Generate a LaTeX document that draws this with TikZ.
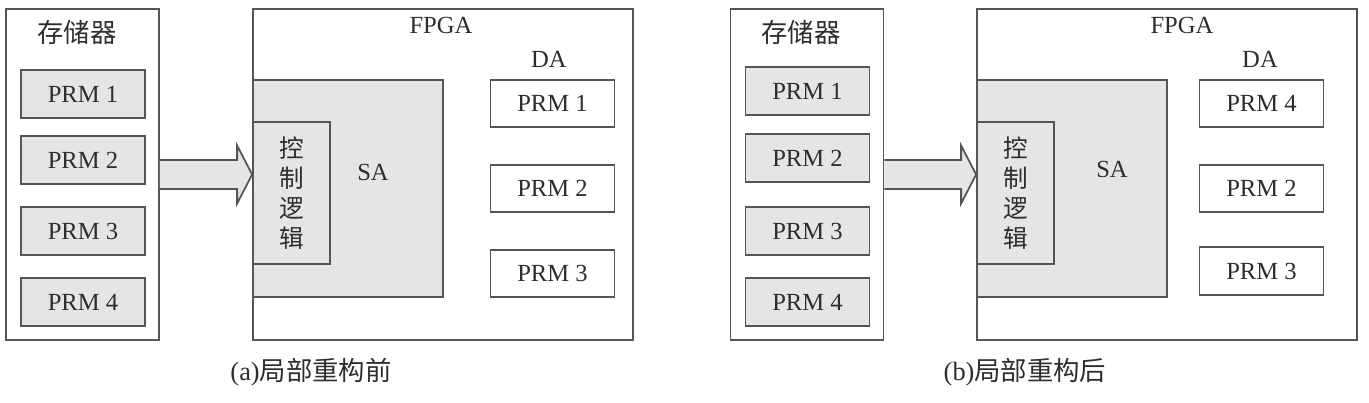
\documentclass[tikz,border=0pt]{standalone}
\usepackage{fontspec}
\setmainfont{Liberation Serif}
\newfontfamily\cjk{Noto Sans CJK SC}
\usepackage{tikz}
\usetikzlibrary{calc}
\definecolor{mygray}{RGB}{85,85,85}
\definecolor{myfill}{RGB}{229,229,229}
\definecolor{mytext}{RGB}{45,45,45}
\tikzset{
  membox/.style={rectangle,draw=mygray,line width=1pt,minimum width=3.06cm,minimum height=6.62cm},
  fpgabox/.style={rectangle,draw=mygray,line width=1pt,minimum width=7.6cm,minimum height=6.62cm},
  prmgray/.style={rectangle,draw=mygray,fill=myfill,line width=1pt,minimum width=2.48cm,
    minimum height=0.95cm,font=\fontsize{14}{16}\selectfont,text=mytext},
  prmwhite/.style={prmgray,fill=white},
  sabox/.style={rectangle,draw=mygray,fill=myfill,line width=1pt,minimum width=3.8cm,minimum height=4.34cm},
  ctlbox/.style={rectangle,draw=mygray,fill=myfill,line width=1pt,minimum width=1.54cm,minimum height=2.84cm,
    align=center,font=\cjk\fontsize{14}{17}\selectfont,text=mytext},
  lbl/.style={font=\fontsize{14}{16}\selectfont,text=mytext},
  cjklbl/.style={font=\cjk\fontsize{15}{18}\selectfont,text=mytext},
  bigarrow/.style={draw=mygray,fill=myfill,line width=1pt,line join=miter}
}

\begin{document}
\begin{tikzpicture}
  \useasboundingbox (0,0) rectangle (27.38,8.04);

  % (a) memory
  \node[membox] (memA) at (1.65,4.55) {};
  \node[cjklbl] (memAlbl) at (1.54,7.40) {存储器};
  \node[prmgray] (memA1) at (1.66,6.16) {PRM 1};
  \node[prmgray] (memA2) at (1.66,4.84) {PRM 2};
  \node[prmgray] (memA3) at (1.66,3.42) {PRM 3};
  \node[prmgray] (memA4) at (1.66,2.00) {PRM 4};

  % (a) FPGA
  \node[fpgabox] (fpgaA) at (8.86,4.55) {};
  \node[lbl] (fpgaAlbl) at (8.82,7.54) {FPGA};
  \node[sabox] (saA) at (6.96,4.27) {};
  \node[ctlbox] (ctlA) at (5.83,4.18) {控\\制\\逻\\辑};
  \node[lbl] (saAlbl) at (7.46,4.60) {SA};
  \node[lbl] (daAlbl) at (10.98,6.86) {DA};
  \node[prmwhite] (daA1) at (11.05,5.97) {PRM 1};
  \node[prmwhite] (daA2) at (11.05,4.27) {PRM 2};
  \node[prmwhite] (daA3) at (11.05,2.57) {PRM 3};

  % (a) load arrow
  \filldraw[bigarrow] ($(memA.east)+(0,0.29)$) -- ($(fpgaA.west)+(-0.30,0.29)$)
    -- ($(fpgaA.west)+(-0.30,0.58)$) -- (fpgaA.west) -- ($(fpgaA.west)+(-0.30,-0.58)$)
    -- ($(fpgaA.west)+(-0.30,-0.29)$) -- ($(memA.east)+(0,-0.29)$);

  \node[cjklbl] (capA) at (6.22,0.60) {\rmfamily(a)\cjk 局部重构前};

  % (b) memory
  \node[membox] (memB) at (16.14,4.55) {};
  \node[cjklbl] (memBlbl) at (16.02,7.40) {存储器};
  \node[prmgray] (memB1) at (16.15,6.22) {PRM 1};
  \node[prmgray] (memB2) at (16.15,4.88) {PRM 2};
  \node[prmgray] (memB3) at (16.15,3.42) {PRM 3};
  \node[prmgray] (memB4) at (16.15,2.00) {PRM 4};

  % (b) FPGA
  \node[fpgabox] (fpgaB) at (23.34,4.55) {};
  \node[lbl] (fpgaBlbl) at (23.64,7.54) {FPGA};
  \node[sabox] (saB) at (21.44,4.27) {};
  \node[ctlbox] (ctlB) at (20.31,4.18) {控\\制\\逻\\辑};
  \node[lbl] (saBlbl) at (22.24,4.66) {SA};
  \node[lbl] (daBlbl) at (25.20,6.86) {DA};
  \node[prmwhite] (daB1) at (25.23,5.97) {PRM 4};
  \node[prmwhite] (daB2) at (25.23,4.27) {PRM 2};
  \node[prmwhite] (daB3) at (25.23,2.62) {PRM 3};

  % (b) load arrow
  \filldraw[bigarrow] ($(memB.east)+(0,0.29)$) -- ($(fpgaB.west)+(-0.30,0.29)$)
    -- ($(fpgaB.west)+(-0.30,0.58)$) -- (fpgaB.west) -- ($(fpgaB.west)+(-0.30,-0.58)$)
    -- ($(fpgaB.west)+(-0.30,-0.29)$) -- ($(memB.east)+(0,-0.29)$);

  \node[cjklbl] (capB) at (20.50,0.60) {\rmfamily(b)\cjk 局部重构后};
\end{tikzpicture}
\end{document}
